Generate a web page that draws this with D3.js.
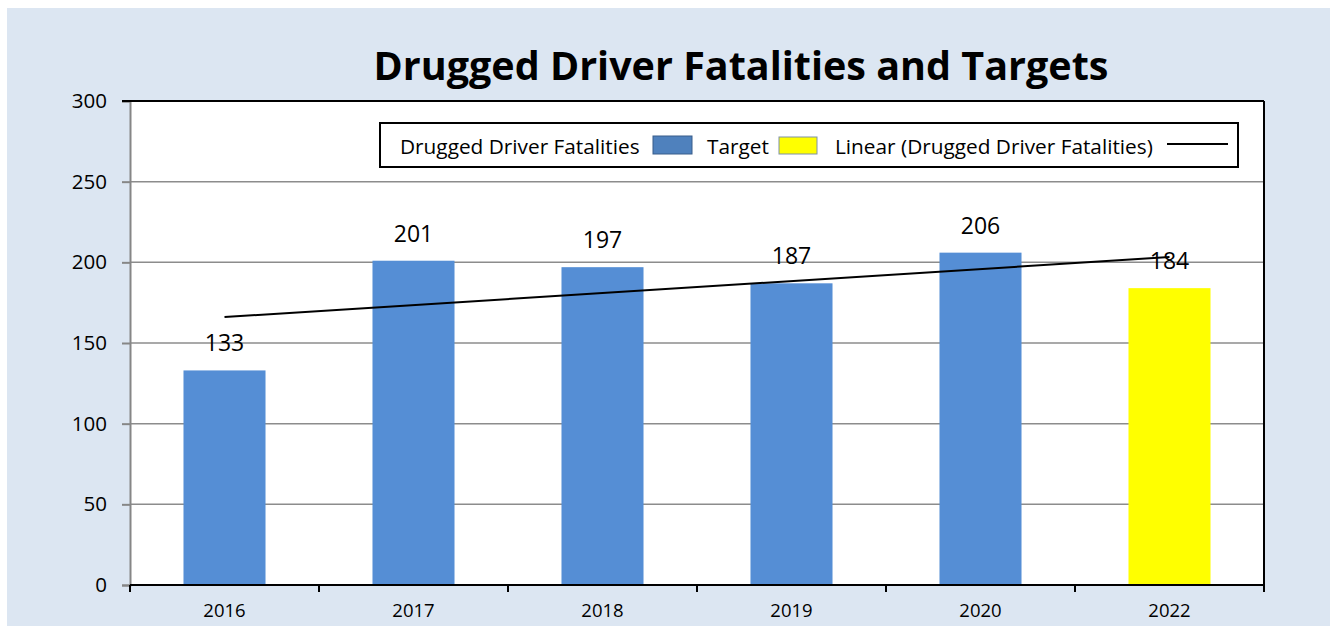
<!DOCTYPE html>
<html>
<head>
<meta charset="utf-8">
<script src="https://cdn.jsdelivr.net/npm/d3@7"></script>
<style>
  body { margin: 0; background: #fff; }
  text { font-family: "Open Sans", "Liberation Sans", sans-serif; fill: #000; }
</style>
</head>
<body>
<div id="chart-area"></div>
<script>
// chart data
const years = ["2016", "2017", "2018", "2019", "2020", "2022"];
const fatalities = [133, 201, 197, 187, 206];
const targetYears = ["2022"];
const targets = [184];
const yTicks = [0, 50, 100, 150, 200, 250, 300];

const W = 1330, H = 626;
const margin = { left: 130, right: 66, top: 101, bottom: 41 };
const width = W - margin.left - margin.right,
      height = H - margin.top - margin.bottom;

const svg = d3.select("#chart-area").append("svg")
  .attr("width", W).attr("height", H);

// chart area background
svg.append("rect").attr("x", 7).attr("y", 8).attr("width", W - 7).attr("height", H - 8)
  .attr("fill", "#dce6f2");

svg.append("text")
  .attr("x", 741).attr("y", 80)
  .attr("text-anchor", "middle")
  .style("font-size", "39.5px").style("font-weight", "bold")
  .text("Drugged Driver Fatalities and Targets");

const g = svg.append("g").attr("transform", "translate(" + margin.left + "," + margin.top + ")");

const x = d3.scaleBand().domain(years).range([0, width]);
const y = d3.scaleLinear().domain([0, 300]).range([height, 0]);
const barW = x.bandwidth() * 0.434;

g.append("rect").attr("width", width).attr("height", height).attr("fill", "#fff");

// gridlines
g.selectAll(".grid").data(yTicks.filter(d => d > 0 && d < 300)).enter()
  .append("line")
    .attr("x1", 0).attr("x2", width)
    .attr("y1", d => y(d)).attr("y2", d => y(d))
    .attr("stroke", "#8c8c8c").attr("stroke-width", 1.5);

// bars
const bars = years.slice(0, fatalities.length).map((yr, i) => ({ year: yr, value: fatalities[i], target: false }))
  .concat(targetYears.map((yr, i) => ({ year: yr, value: targets[i], target: true })));

g.selectAll(".bar").data(bars).enter()
  .append("rect")
    .attr("x", d => x(d.year) + (x.bandwidth() - barW) / 2)
    .attr("y", d => y(d.value))
    .attr("width", barW)
    .attr("height", d => height - y(d.value))
    .attr("fill", d => d.target ? "#ffff00" : "#558ed5");

// linear trend over all six points
const allVals = fatalities.concat(targets);
const n = allVals.length;
const mx = d3.mean(allVals, (d, i) => i + 1), my = d3.mean(allVals);
const slope = d3.sum(allVals, (d, i) => (i + 1 - mx) * (d - my)) / d3.sum(allVals, (d, i) => (i + 1 - mx) ** 2);
const trend = (i) => my + slope * (i + 1 - mx);
g.append("line")
  .attr("x1", x(years[0]) + x.bandwidth() / 2).attr("y1", y(trend(0)))
  .attr("x2", x(years[n - 1]) + x.bandwidth() / 2).attr("y2", y(trend(n - 1)))
  .attr("stroke", "#000").attr("stroke-width", 2);

// value labels
g.selectAll(".lbl").data(bars).enter()
  .append("text")
    .attr("x", d => x(d.year) + x.bandwidth() / 2)
    .attr("y", d => y(d.value) - 19)
    .attr("text-anchor", "middle")
    .style("font-size", "23px")
    .text(d => d.value);

// y axis
const yAxis = g.append("g").call(d3.axisLeft(y).tickValues(yTicks).tickSize(8).tickPadding(15));
yAxis.select(".domain").attr("stroke", "#868686").attr("stroke-width", 2);
yAxis.selectAll(".tick line").attr("stroke", "#868686").attr("stroke-width", 2);
yAxis.selectAll("text").style("font-size", "20.5px").attr("fill", "#000")
  .style("font-family", "'Open Sans', sans-serif");

// x axis
const xAxis = g.append("g").attr("transform", "translate(0," + height + ")")
  .call(d3.axisBottom(x).tickSize(0).tickPadding(19));
xAxis.select(".domain").remove();
xAxis.selectAll("text").style("font-size", "18.5px").attr("fill", "#000")
  .style("font-family", "'Open Sans', sans-serif");
g.append("line").attr("x1", 0).attr("x2", width).attr("y1", height).attr("y2", height)
  .attr("stroke", "#000").attr("stroke-width", 2);
g.selectAll(".xtick").data(years.concat(["end"])).enter()
  .append("line")
    .attr("x1", (d, i) => i * x.step()).attr("x2", (d, i) => i * x.step())
    .attr("y1", height).attr("y2", height + 7)
    .attr("stroke", "#000").attr("stroke-width", 2);

// top and right border
g.append("line").attr("x1", -8).attr("x2", width).attr("y1", 0).attr("y2", 0)
  .attr("stroke", "#000").attr("stroke-width", 2);
g.append("line").attr("x1", width).attr("x2", width).attr("y1", 0).attr("y2", height + 7)
  .attr("stroke", "#000").attr("stroke-width", 2);

// legend
const leg = svg.append("g").attr("transform", "translate(380,123)");
leg.append("rect").attr("width", 858).attr("height", 44)
  .attr("fill", "#fff").attr("stroke", "#000").attr("stroke-width", 2);
leg.append("text").attr("x", 20).attr("y", 31).style("font-size", "20.8px").text("Drugged Driver Fatalities");
leg.append("rect").attr("x", 273).attr("y", 13).attr("width", 39).attr("height", 18)
  .attr("fill", "#4f81bd").attr("stroke", "#385d8a");
leg.append("text").attr("x", 327).attr("y", 31).style("font-size", "20.8px").text("Target");
leg.append("rect").attr("x", 399).attr("y", 14).attr("width", 38).attr("height", 17)
  .attr("fill", "#ffff00").attr("stroke", "#7f91a8");
leg.append("text").attr("x", 455).attr("y", 31).style("font-size", "20.8px").text("Linear (Drugged Driver Fatalities)");
leg.append("line").attr("x1", 787).attr("x2", 848).attr("y1", 21).attr("y2", 21)
  .attr("stroke", "#000").attr("stroke-width", 2);
</script>
</body>
</html>
